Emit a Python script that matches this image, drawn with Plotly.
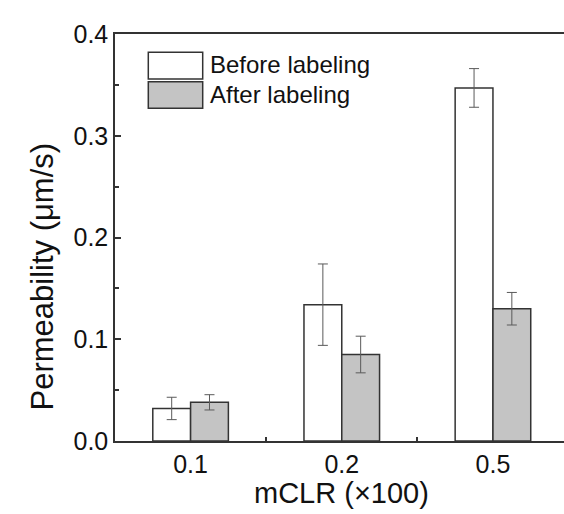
import plotly.graph_objects as go

categories = ["0.1", "0.2", "0.5"]
series_names = ["Before labeling", "After labeling"]
before_vals = [0.032, 0.134, 0.347]
before_err = [0.011, 0.040, 0.019]
after_vals = [0.038, 0.085, 0.130]
after_err = [0.0075, 0.018, 0.016]
y_ticks = [0.0, 0.1, 0.2, 0.3, 0.4]
x_title = "mCLR (×100)"
y_title = "Permeability (μm/s)"

FONT = "Arial, 'Liberation Sans', sans-serif"
fills = ["#ffffff", "#c4c4c4"]
edge = "#333333"

fig = go.Figure()
for name, vals, errs, fc in [
    (series_names[0], before_vals, before_err, fills[0]),
    (series_names[1], after_vals, after_err, fills[1]),
]:
    fig.add_trace(go.Bar(
        x=categories, y=vals, name=name,
        marker=dict(color=fc, line=dict(color=edge, width=1.5)),
        error_y=dict(type="data", array=errs, visible=True,
                     color="#5a5a5a", thickness=1, width=5),
        showlegend=False,
    ))

W, H = 564, 514
L, R, T, B = 115, 0, 34, 73
pw, ph = W - L - R, H - T - B

def px_x(x):
    return (x - L) / pw

def px_y(y):
    return (H - B - y) / ph

# custom legend (large boxes)
boxes = [(52.3, 79.0), (81.7, 108.3)]
for (y0, y1), fc, name in zip(boxes, fills, series_names):
    fig.add_shape(type="rect", xref="paper", yref="paper",
                  x0=px_x(148.3), x1=px_x(202.7), y0=px_y(y1), y1=px_y(y0),
                  fillcolor=fc, line=dict(color=edge, width=1.5))
    fig.add_annotation(xref="paper", yref="paper", x=px_x(208), y=px_y((y0 + y1) / 2 - 1),
                       text=name, showarrow=False, xanchor="left", yanchor="middle",
                       font=dict(family=FONT, size=24, color="#111111"))

fig.add_annotation(xref="paper", yref="paper", x=px_x(341.5), y=px_y(493),
                   text=x_title, showarrow=False, xanchor="center", yanchor="middle",
                   font=dict(family=FONT, size=29, color="#111111"))
fig.add_annotation(xref="paper", yref="paper", x=px_x(42), y=px_y(276.5),
                   text=y_title, showarrow=False, xanchor="center", yanchor="middle",
                   textangle=-90,
                   font=dict(family=FONT, size=31, color="#111111"))

fig.update_layout(
    width=W, height=H,
    margin=dict(l=L, r=R, t=T, b=B),
    paper_bgcolor="white", plot_bgcolor="white",
    barmode="group", bargap=0.5, bargroupgap=0,
    font=dict(family=FONT, size=25, color="#111111"),
    xaxis=dict(
        type="category", range=[-0.5, 2.47],
        showline=True, linecolor=edge, linewidth=1.5, mirror=True,
        ticks="inside", tickson="boundaries", ticklen=4, tickcolor=edge, tickwidth=1.5,
        showgrid=False, zeroline=False,
        tickfont=dict(family=FONT, size=25, color="#111111"),
    ),
    yaxis=dict(
        range=[0, 0.4], tickvals=y_ticks, tickformat=".1f",
        showline=True, linecolor=edge, linewidth=1.5, mirror=False,
        ticks="inside", ticklen=6, tickcolor=edge, tickwidth=1.5,
        minor=dict(dtick=0.05, ticks="inside", ticklen=4, tickcolor=edge, tickwidth=1.5),
        showgrid=False, zeroline=False,
        tickfont=dict(family=FONT, size=25, color="#111111"),
    ),
)

fig.write_html("out.html")
